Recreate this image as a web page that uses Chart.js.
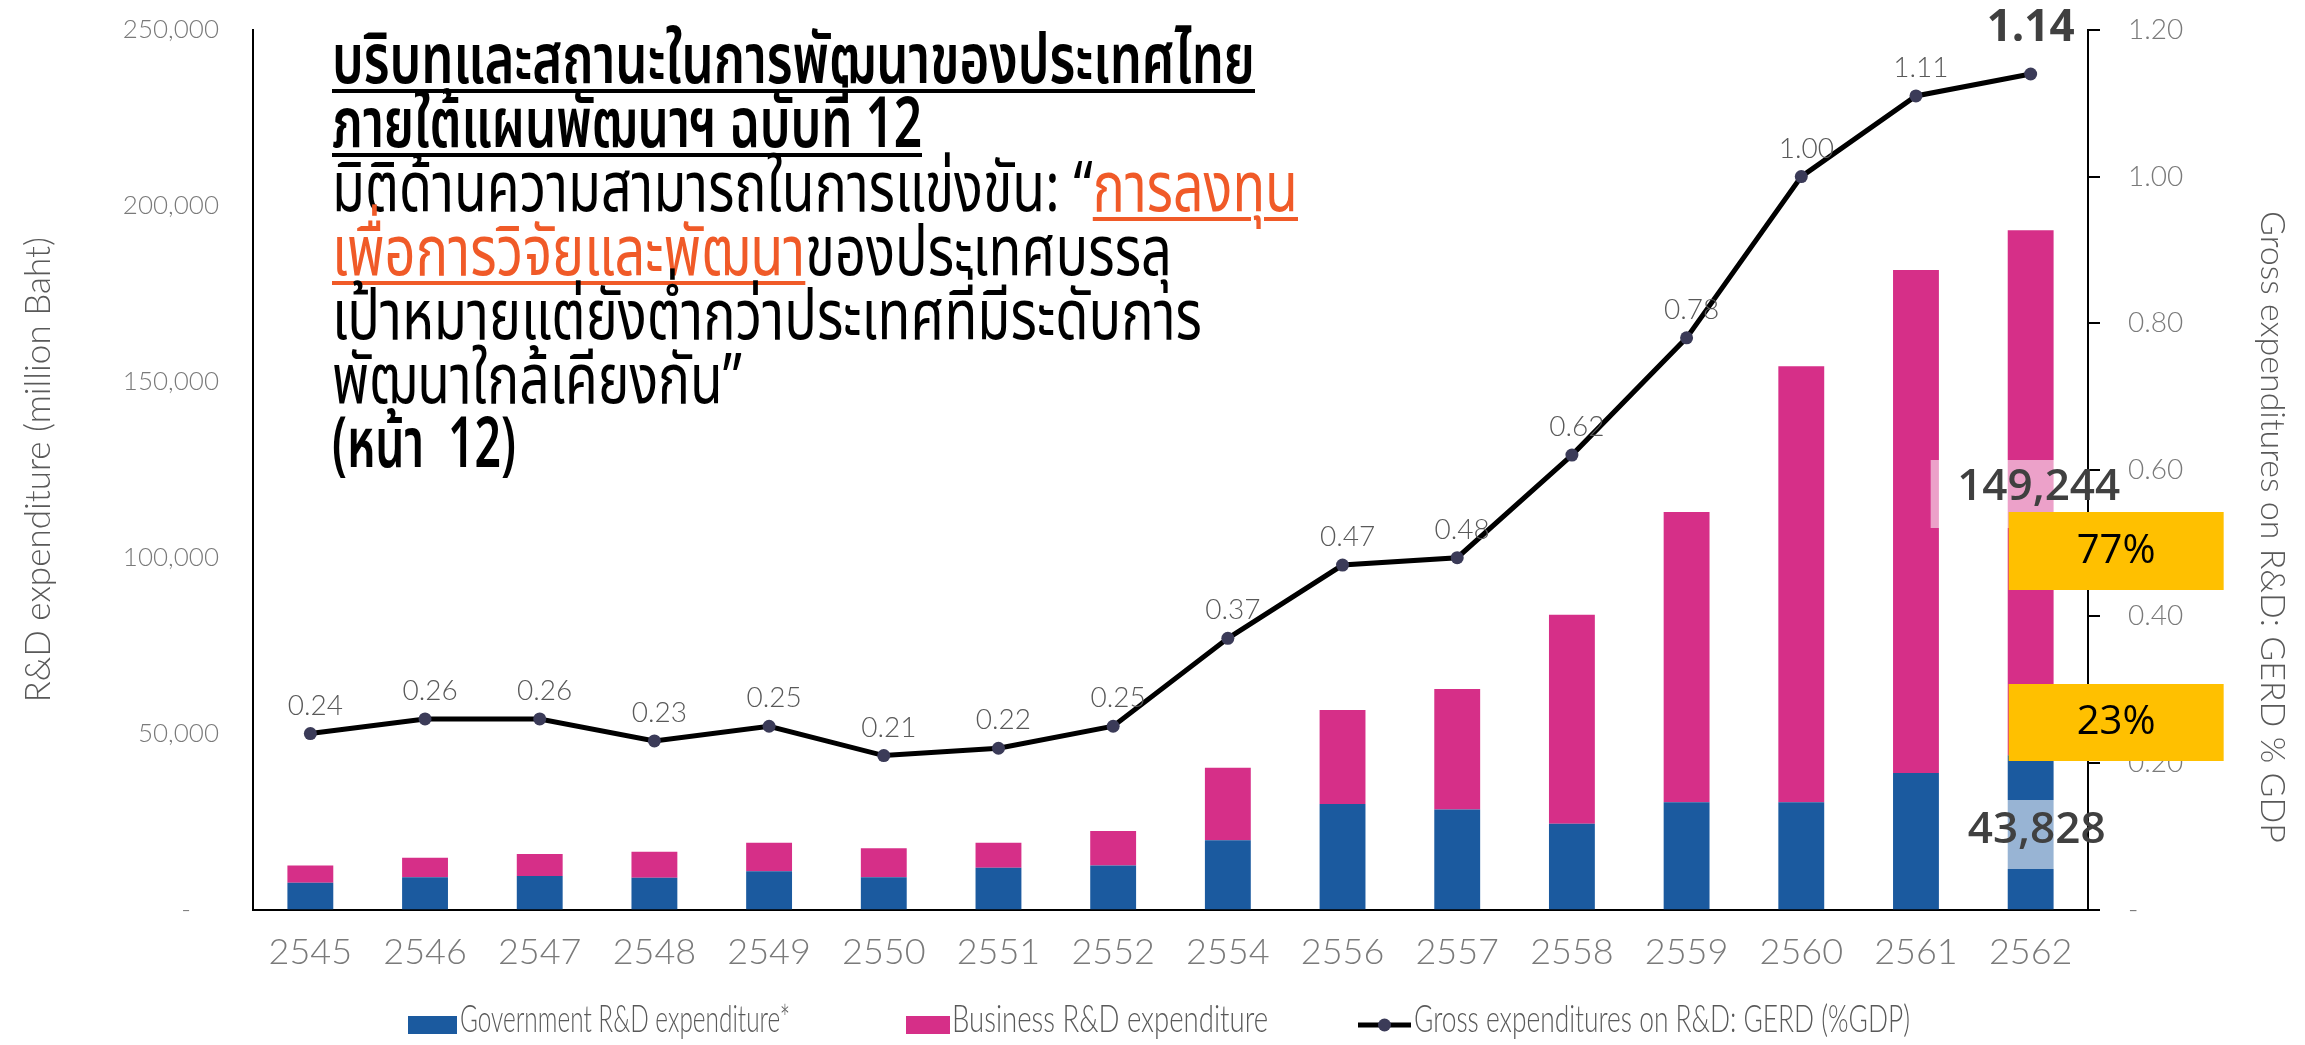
<!DOCTYPE html>
<html>
<head>
<meta charset="utf-8">
<script src="https://cdn.jsdelivr.net/npm/chart.js@4.4.1/dist/chart.umd.min.js"></script>
<style>
html,body{margin:0;padding:0;background:#fff;overflow:hidden;}
#wrap{position:relative;width:2305px;height:1045px;}
#c{position:absolute;left:0;top:0;}
#note{position:absolute;left:332px;top:30px;color:#000;
  font-family:"Noto Sans Thai","Noto Sans Thai UI","Noto Sans Thai Looped","Noto Sans",sans-serif;}
#note .ln{white-space:nowrap;height:64px;line-height:64px;font-size:70px;font-weight:400;}
#note .in{display:inline-block;transform-origin:0 0;}
#note .b{font-weight:600;}
#note .u{text-decoration:underline;text-decoration-thickness:4px;text-underline-offset:6px;}
#note .o{color:#F05A28;}
</style>
</head>
<body>
<div id="wrap">
<canvas id="c" width="2305" height="1045"></canvas>
<div id="note">
<div class="ln b"><span class="in"><span class="u">บริบทและสถานะในการพัฒนาของประเทศไทย</span></span></div>
<div class="ln b"><span class="in"><span class="u">ภายใต้แผนพัฒนาฯ ฉบับที่ 12</span></span></div>
<div class="ln"><span class="in">มิติด้านความสามารถในการแข่งขัน: “<span class="u o">การลงทุน</span></span></div>
<div class="ln"><span class="in"><span class="u o">เพื่อการวิจัยและพัฒนา</span>ของประเทศบรรลุ</span></div>
<div class="ln"><span class="in">เป้าหมายแต่ยังต่ำกว่าประเทศที่มีระดับการ</span></div>
<div class="ln"><span class="in">พัฒนาใกล้เคียงกัน”</span></div>
<div class="ln b"><span class="in">(หน้า&nbsp; 12)</span></div>
</div>
</div>
<script>
// ---------- data ----------
const years = ['2545','2546','2547','2548','2549','2550','2551','2552','2554','2556','2557','2558','2559','2560','2561','2562'];
const govSpend = [7600, 9200, 9500, 9000, 10900, 9200, 11900, 12500, 19700, 30000, 28400, 24400, 30500, 30500, 38800, 43828];
const bizSpend = [4900, 5500, 6300, 7400, 8100, 8200, 7100, 9800, 20600, 26700, 34300, 59400, 82500, 123900, 143000, 149244];
const gerdPct = [0.24, 0.26, 0.26, 0.23, 0.25, 0.21, 0.22, 0.25, 0.37, 0.47, 0.48, 0.62, 0.78, 1.00, 1.11, 1.14];
const leftTicks = [0, 50000, 100000, 150000, 200000, 250000];
const rightTicks = [0, 0.2, 0.4, 0.6, 0.8, 1.0, 1.2];
const seriesNames = ['Government R&D expenditure*', 'Business R&D expenditure', 'Gross expenditures on R&D: GERD (%GDP)'];

// ---------- styles ----------
const GOV = '#1B5A9F';
const BIZ = '#D62F88';
const LINE = '#000000';
const DOT = '#3B3B58';
const GREY = '#7A7A7A';
const TXT = '#595959';

const gerdLabels = {
  id: 'gerdLabels',
  afterDatasetsDraw(chart) {
    const meta = chart.getDatasetMeta(2);
    const c = chart.ctx;
    c.save();
    c.textAlign = 'center'; c.textBaseline = 'middle';
    meta.data.forEach((pt, i) => {
      const txt = gerdPct[i].toFixed(2);
      if (i === gerdPct.length - 1) {
        c.font = '700 44px "Open Sans"'; c.fillStyle = '#404040';
        c.fillText(txt, pt.x, pt.y - 46);
      } else {
        c.font = '300 28px Lato'; c.fillStyle = TXT;
        c.fillText(txt, pt.x + 5, pt.y - 28);
      }
    });
    c.restore();
  }
};

const shareNotes = {
  id: 'shareNotes',
  afterDatasetsDraw(chart) {
    const c = chart.ctx;
    const i = years.length - 1;
    const bx = chart.getDatasetMeta(0).data[i].x;
    const total = govSpend[i] + bizSpend[i];
    c.save();
    c.fillStyle = 'rgba(255,255,255,0.55)';
    c.fillRect(bx - 100, 460, 130, 68);
    c.fillRect(bx - 63, 800, 93, 69);
    c.textAlign = 'center'; c.textBaseline = 'middle';
    c.font = '600 44px "Open Sans"'; c.fillStyle = '#404040';
    c.fillText(bizSpend[i].toLocaleString('en-US'), bx + 8, 487);
    c.fillText(govSpend[i].toLocaleString('en-US'), bx + 6, 830);
    c.fillStyle = '#FFC000';
    c.fillRect(bx - 22, 512, 215, 78);
    c.fillRect(bx - 22, 684, 215, 77);
    c.fillStyle = '#000';
    c.font = '400 40px "Open Sans"';
    c.fillText(Math.round(bizSpend[i] / total * 100) + '%', bx + 85.5, 552);
    c.fillText(Math.round(govSpend[i] / total * 100) + '%', bx + 85.5, 723);
    c.restore();
  }
};

function squeezeText(c, txt, x, y, targetW) {
  const w = c.measureText(txt).width;
  const k = Math.min(1, targetW / w);
  c.save(); c.translate(x, y); c.scale(k, 1); c.fillText(txt, 0, 0); c.restore();
}

const extras = {
  id: 'extras',
  afterDraw(chart) {
    const c = chart.ctx;
    c.save();
    c.translate(2272, 527);
    c.rotate(Math.PI / 2);
    c.textAlign = 'center'; c.textBaseline = 'middle';
    c.font = '300 34px Lato'; c.fillStyle = TXT;
    c.fillText('Gross expenditures on R&D: GERD % GDP', 0, 0);
    c.restore();
    const ds = chart.data.datasets;
    const slots = [
      { x0: 408, x1: 457, tx: 460, tw: 330 },
      { x0: 906, x1: 950, tx: 952, tw: 316 },
      { x0: 1358, x1: 1411, tx: 1414, tw: 496 }
    ];
    c.save();
    c.font = '300 37px Lato'; c.textAlign = 'left'; c.textBaseline = 'alphabetic';
    ds.forEach((d, k) => {
      const s = slots[k];
      if (d.type === 'bar') {
        c.fillStyle = d.backgroundColor;
        c.fillRect(s.x0, 1016, s.x1 - s.x0, 18);
      } else {
        c.strokeStyle = d.borderColor; c.lineWidth = 5;
        c.beginPath(); c.moveTo(s.x0, 1025); c.lineTo(s.x1, 1025); c.stroke();
        c.fillStyle = d.pointBackgroundColor;
        c.beginPath(); c.arc((s.x0 + s.x1) / 2, 1025, 6.5, 0, Math.PI * 2); c.fill();
      }
      c.fillStyle = TXT;
      squeezeText(c, d.label, s.tx, 1032, s.tw);
    });
    c.restore();
  }
};

function noVPad(s) { s.paddingTop = 0; s.paddingBottom = 0; }

new Chart(document.getElementById('c'), {
  data: {
    labels: years,
    datasets: [
      { type: 'bar', label: seriesNames[0], data: govSpend, backgroundColor: GOV, stack: 's', yAxisID: 'y', order: 2,
        barPercentage: 0.40, categoryPercentage: 1.0 },
      { type: 'bar', label: seriesNames[1], data: bizSpend, backgroundColor: BIZ, stack: 's', yAxisID: 'y', order: 2,
        barPercentage: 0.40, categoryPercentage: 1.0 },
      { type: 'line', label: seriesNames[2], data: gerdPct, yAxisID: 'y1', order: 1,
        borderColor: LINE, borderWidth: 5, tension: 0, fill: false,
        pointRadius: 6.5, pointBackgroundColor: DOT, pointBorderColor: DOT, pointBorderWidth: 0 }
    ]
  },
  options: {
    responsive: false,
    animation: false,
    devicePixelRatio: 1,
    layout: { padding: { top: 30, left: 0, right: 0, bottom: 60 } },
    plugins: {
      tooltip: { enabled: false },
      legend: { display: false }
    },
    scales: {
      x: {
        stacked: true,
        grid: { display: false, drawTicks: false },
        border: { display: true, color: '#000', width: 2 },
        ticks: { color: GREY, padding: 21, font: { family: 'Lato', size: 36, weight: '300' } },
        afterFit(s) { s.height = 75.5; }
      },
      y: {
        stacked: true,
        position: 'left',
        min: 0, max: 250000,
        afterBuildTicks(s) { s.ticks = leftTicks.map(v => ({ value: v })); },
        grid: { display: false, drawTicks: false },
        border: { display: true, color: '#000', width: 2 },
        ticks: {
          color: GREY, padding: 34, font: { family: 'Lato', size: 26, weight: '300' },
          callback: v => v === 0 ? '-    ' : v.toLocaleString('en-US')
        },
        title: {
          display: true, text: 'R&D expenditure (million Baht)', color: TXT,
          font: { family: 'Lato', size: 35, weight: '300' }, padding: { top: 18, bottom: 0 }
        },
        afterFit(s) { s.width = 253; noVPad(s); }
      },
      y1: {
        position: 'right',
        min: 0, max: 1.2,
        afterBuildTicks(s) { s.ticks = rightTicks.map(v => ({ value: v })); },
        grid: { display: true, drawOnChartArea: false, drawTicks: true, tickLength: 12, color: '#000', lineWidth: 2 },
        border: { display: true, color: '#000', width: 2 },
        ticks: {
          color: GREY, padding: 28, font: { family: 'Lato', size: 28, weight: '300' },
          callback: v => v === 0 ? '-' : Number(v).toFixed(2)
        },
        afterFit(s) { s.width = 217; noVPad(s); }
      }
    }
  },
  plugins: [gerdLabels, shareNotes, extras]
});

const lineWidths = [923, 590, 966, 840, 870, 410, 184];
function fitNote() {
  document.querySelectorAll('#note .in').forEach((el, i) => {
    el.style.transform = 'none';
    const w = el.getBoundingClientRect().width;
    if (w > 0) el.style.transform = 'scaleX(' + (lineWidths[i] / w) + ')';
  });
}
fitNote();
if (document.fonts && document.fonts.ready) document.fonts.ready.then(fitNote);
</script>
</body>
</html>
